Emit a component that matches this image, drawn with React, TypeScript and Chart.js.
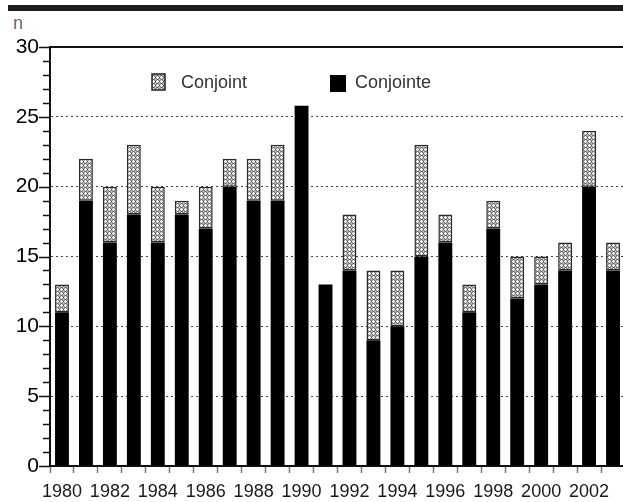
import React, { useEffect, useRef } from "react";
import { Chart, registerables } from "chart.js";

Chart.register(...registerables);

const years = ["1980","1981","1982","1983","1984","1985","1986","1987","1988","1989","1990","1991","1992","1993","1994","1995","1996","1997","1998","1999","2000","2001","2002","2003"];
const conjointe = [11,19,16,18,16,18,17,20,19,19,25.8,13,14,9,10,15,16,11,17,12,13,14,20,14];
const conjoint = [2,3,4,5,4,1,3,2,3,4,null,null,4,5,4,8,2,2,2,3,2,2,4,2];
const yMax = 30;
const yMajorStep = 5;

function makePattern(): CanvasPattern | string {
  const c = document.createElement("canvas");
  c.width = 4;
  c.height = 4;
  const g = c.getContext("2d");
  if (!g) return "#999";
  g.fillStyle = "#909090";
  g.fillRect(0, 0, 4, 4);
  g.fillStyle = "#f4f4f4";
  [[1,0],[0,1],[1,1],[2,1],[1,2]].forEach(([x, y]) => g.fillRect(x, y, 1, 1));
  g.fillStyle = "#d0d0d0";
  [[3,3]].forEach(([x, y]) => g.fillRect(x, y, 1, 1));
  g.fillStyle = "#5a5a5a";
  [[3,1],[1,3]].forEach(([x, y]) => g.fillRect(x, y, 1, 1));
  const p = g.createPattern(c, "repeat");
  return p || "#999";
}

export default function App() {
  const ref = useRef<HTMLCanvasElement | null>(null);
  useEffect(() => {
    if (!ref.current) return;
    const pattern = makePattern();
    const overlay = {
      id: "overlay",
      afterDatasetsDraw(chart: any) {
        const ctx = chart.ctx;
        const area = chart.chartArea;
        const y = chart.scales.y;
        ctx.save();
        ctx.strokeStyle = "#111";
        ctx.lineWidth = 2;
        ctx.beginPath();
        const yt = y.getPixelForValue(yMax);
        ctx.moveTo(area.left, yt);
        ctx.lineTo(area.right + 10, yt);
        ctx.stroke();
        ctx.lineWidth = 1.5;
        for (let v = 0; v <= yMax; v++) {
          const py = Math.round(y.getPixelForValue(v)) + 0.5;
          const len = v % yMajorStep === 0 ? 11 : 7;
          ctx.beginPath();
          ctx.moveTo(area.left - len, py);
          ctx.lineTo(area.left, py);
          ctx.stroke();
        }
        ctx.font = "18px 'Liberation Sans', Arial, sans-serif";
        ctx.textBaseline = "alphabetic";
        ctx.fillStyle = pattern as any;
        ctx.fillRect(152, 74, 13, 16);
        ctx.strokeStyle = "#222";
        ctx.lineWidth = 1.5;
        ctx.strokeRect(152, 74, 13, 16);
        ctx.fillStyle = "#333";
        ctx.fillText("Conjoint", 181, 88);
        ctx.fillStyle = "#000";
        ctx.fillRect(330, 75, 16, 17);
        ctx.fillStyle = "#333";
        ctx.fillText("Conjointe", 355, 88);
        ctx.restore();
      },
    };
    const chart = new Chart(ref.current, {
      type: "bar",
      data: {
        labels: years,
        datasets: [
          {
            label: "Conjointe",
            data: conjointe,
            backgroundColor: "#000",
            borderWidth: 0,
            barPercentage: 0.58,
            categoryPercentage: 1,
          },
          {
            label: "Conjoint",
            data: conjoint as any,
            backgroundColor: pattern as any,
            borderColor: "#2a2a2a",
            borderWidth: 1.5,
            borderSkipped: false,
            barPercentage: 0.58,
            categoryPercentage: 1,
          },
        ],
      },
      options: {
        responsive: false,
        animation: false,
        layout: { padding: { left: 0, top: 47, right: 5, bottom: 0 } },
        plugins: { legend: { display: false }, tooltip: { enabled: false } },
        scales: {
          x: {
            stacked: true,
            offset: true,
            afterFit: (s: any) => { s.height = 36; },
            grid: {
              offset: true,
              drawOnChartArea: false,
              drawTicks: true,
              tickLength: 7,
              tickColor: "#777",
              tickWidth: 1.5,
            },
            border: { color: "#111", width: 2 },
            ticks: {
              autoSkip: false,
              maxRotation: 0,
              padding: 8,
              color: "#1a1a1a",
              font: { family: "'Liberation Sans Narrow', 'Liberation Sans', Arial, sans-serif", size: 18 },
              callback: (_v: any, i: number) => (i % 2 === 0 ? years[i] : ""),
            },
          },
          y: {
            stacked: true,
            min: 0,
            max: yMax,
            afterFit: (s: any) => { s.width = 50; },
            grid: {
              drawTicks: false,
              color: (c: any) => {
                const v = c.tick ? c.tick.value : 0;
                return v % yMajorStep === 0 && v > 0 && v < yMax ? "#444" : "rgba(0,0,0,0)";
              },
              lineWidth: 1,
            },
            border: { color: "#111", width: 2, dash: [2, 3] },
            ticks: {
              stepSize: 1,
              autoSkip: false,
              padding: 11,
              color: "#000",
              font: { family: "'Liberation Sans', Arial, sans-serif", size: 21 },
              callback: (v: any) => (Number(v) % yMajorStep === 0 ? String(v) : ""),
            },
          },
        },
      },
      plugins: [overlay],
    });
    return () => chart.destroy();
  }, []);

  return (
    <div style={{ position: "fixed", left: 0, top: 0, width: 623, height: 502, overflow: "hidden", background: "#fff" }}>
      <div style={{ position: "absolute", left: 8, top: 5, width: 615, height: 6, background: "#1e1e1e" }} />
      <div style={{ position: "absolute", left: 13, top: 13, fontFamily: "'Liberation Sans Narrow', 'Liberation Sans', Arial, sans-serif", fontSize: 18, color: "#666", lineHeight: "20px" }}>n</div>
      <canvas ref={ref} width={630} height={502} style={{ position: "absolute", left: 0, top: 0, display: "block" }} />
    </div>
  );
}
